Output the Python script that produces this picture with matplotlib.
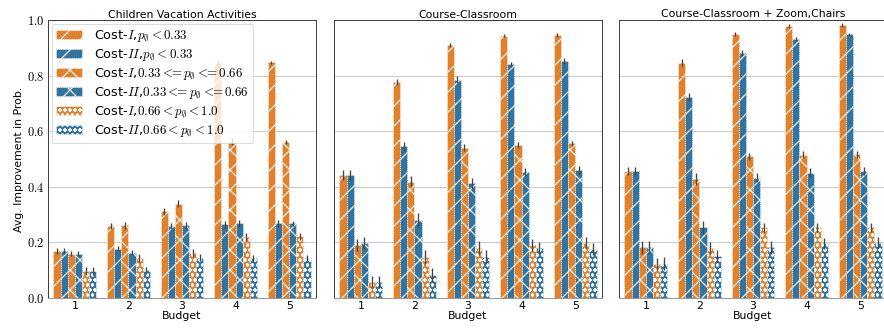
import numpy as np
import matplotlib
matplotlib.use('Agg')
import matplotlib.pyplot as plt
from matplotlib.ticker import FuncFormatter

plt.rcParams['mathtext.fontset'] = 'cm'
plt.rcParams['font.family'] = 'DejaVu Sans'
plt.rcParams['hatch.linewidth'] = 1.4

budgets = [1, 2, 3, 4, 5]
titles = ['Children Vacation Activities', 'Course-Classroom', 'Course-Classroom + Zoom,Chairs']
le = r'<\!\!\!='
labels = [r'Cost-$I$,$p_\emptyset < 0.33$',
          r'Cost-$II$,$p_\emptyset < 0.33$',
          r'Cost-$I$,$0.33 ' + le + r' p_\emptyset ' + le + r' 0.66$',
          r'Cost-$II$,$0.33 ' + le + r' p_\emptyset ' + le + r' 0.66$',
          r'Cost-$I$,$0.66 < p_\emptyset < 1.0$',
          r'Cost-$II$,$0.66 < p_\emptyset < 1.0$']

# rows = series (in label order), columns = budget 1..5
children = [[0.169, 0.260, 0.312, 0.844, 0.848],
            [0.170, 0.178, 0.259, 0.265, 0.268],
            [0.160, 0.262, 0.339, 0.562, 0.562],
            [0.160, 0.163, 0.262, 0.268, 0.268],
            [0.097, 0.144, 0.162, 0.220, 0.222],
            [0.097, 0.100, 0.145, 0.144, 0.144]]
children_err = [[0.010, 0.010, 0.012, 0.008, 0.006],
                [0.010, 0.010, 0.012, 0.012, 0.012],
                [0.010, 0.012, 0.012, 0.012, 0.008],
                [0.010, 0.010, 0.012, 0.012, 0.008],
                [0.015, 0.015, 0.015, 0.015, 0.012],
                [0.015, 0.012, 0.012, 0.012, 0.012]]

classroom = [[0.441, 0.777, 0.910, 0.944, 0.946],
             [0.441, 0.545, 0.785, 0.840, 0.853],
             [0.191, 0.418, 0.541, 0.551, 0.556],
             [0.197, 0.282, 0.412, 0.454, 0.460],
             [0.058, 0.149, 0.179, 0.191, 0.197],
             [0.058, 0.082, 0.149, 0.179, 0.175]]
classroom_err = [[0.018, 0.012, 0.008, 0.006, 0.006],
                 [0.018, 0.015, 0.012, 0.010, 0.010],
                 [0.022, 0.020, 0.012, 0.010, 0.010],
                 [0.022, 0.025, 0.020, 0.015, 0.015],
                 [0.022, 0.025, 0.025, 0.022, 0.022],
                 [0.022, 0.025, 0.025, 0.022, 0.022]]

zoom = [[0.457, 0.846, 0.949, 0.979, 0.982],
        [0.457, 0.723, 0.882, 0.932, 0.949],
        [0.182, 0.427, 0.509, 0.515, 0.517],
        [0.182, 0.254, 0.433, 0.451, 0.457],
        [0.121, 0.179, 0.254, 0.254, 0.254],
        [0.124, 0.151, 0.182, 0.197, 0.199]]
zoom_err = [[0.015, 0.012, 0.008, 0.006, 0.006],
            [0.015, 0.015, 0.010, 0.008, 0.006],
            [0.022, 0.022, 0.012, 0.012, 0.012],
            [0.022, 0.022, 0.015, 0.015, 0.015],
            [0.022, 0.022, 0.015, 0.015, 0.015],
            [0.022, 0.022, 0.022, 0.020, 0.020]]

datasets = [(children, children_err), (classroom, classroom_err), (zoom, zoom_err)]

orange = '#e1812c'
blue = '#3274a1'
colors = [orange, blue] * 3
hatches = ['/', '/', 'x', 'x', 'oo', 'oo']

dpi = 60
fig = plt.figure(figsize=(884 / dpi, 331 / dpi), dpi=dpi)
W, H = 884, 331
lefts = [48, 334, 619]
axw = 268
bottom, top = 298, 20

axes = []
for i in range(3):
    ax = fig.add_axes([lefts[i] / W, 1 - bottom / H, axw / W, (bottom - top) / H],
                      sharey=axes[0] if axes else None)
    axes.append(ax)

x = np.arange(len(budgets))
n = len(labels)
bw = 0.8 / n
for ax, title, (vals, errs) in zip(axes, titles, datasets):
    for j in range(n):
        pos = x - 0.4 + bw * (j + 0.5)
        ax.bar(pos, vals[j], width=bw, color=colors[j], edgecolor='white',
               linestyle=':', linewidth=1.0, hatch=hatches[j], label=labels[j],
               zorder=2)
        ax.errorbar(pos, vals[j], yerr=errs[j], fmt='none', ecolor='#444444',
                    elinewidth=1.6, capsize=0, zorder=3)
    ax.set_xlim(-0.5, 4.5)
    ax.set_ylim(0, 1.0)
    ax.set_xticks(x)
    ax.set_xticklabels([str(b) for b in budgets], fontsize=13)
    ax.set_xlabel('Budget', fontsize=13, labelpad=0)
    ax.set_title(title, fontsize=13, pad=3)
    ax.grid(axis='y', color='0.8', linewidth=1.2, zorder=0)
    ax.set_axisbelow(True)
    ax.tick_params(length=0, pad=4)
    for s in ax.spines.values():
        s.set_color('0.25')
        s.set_linewidth(1.2)
    ax.spines['bottom'].set_color('0.6')

axes[0].set_yticks([0.0, 0.2, 0.4, 0.6, 0.8, 1.0])
axes[0].yaxis.set_major_formatter(FuncFormatter(lambda v, _: f'${v:.1f}$'))
axes[0].tick_params(axis='y', labelsize=15)
for ax in axes[1:]:
    ax.tick_params(axis='y', labelleft=False)
axes[0].set_ylabel('Avg. Improvement in Prob.', fontsize=13, labelpad=4)

axes[0].legend(loc='upper left', fontsize=15.5, framealpha=0.8, edgecolor='0.8',
               handlelength=2.0, handleheight=0.7, labelspacing=0.22,
               borderaxespad=0.3, handletextpad=0.9, borderpad=0.35)

fig.savefig('out.png', dpi=dpi)
